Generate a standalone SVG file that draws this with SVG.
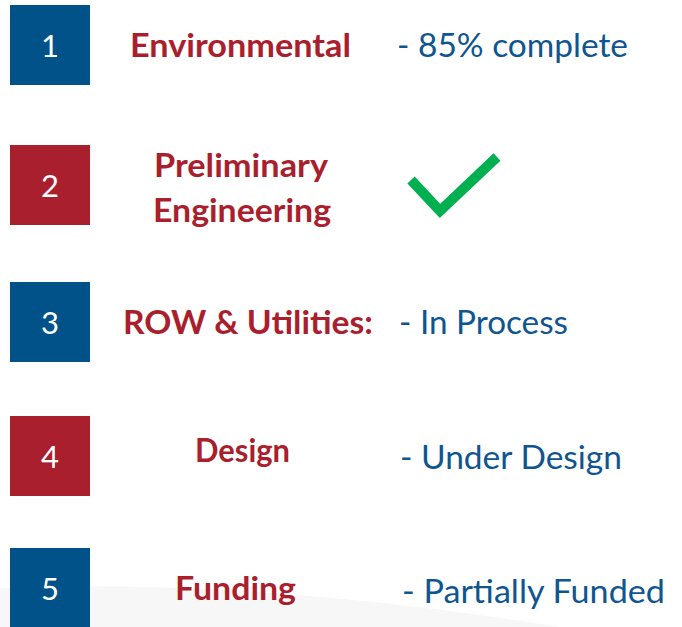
<svg xmlns="http://www.w3.org/2000/svg" width="682" height="627" viewBox="0 0 682 627">
  <style>
    .box-blue { fill: #02528A; }
    .box-red { fill: #AA1F2E; }
    .num { font-family: "Lato", "Open Sans", "Liberation Sans", sans-serif; font-size: 31px; fill: #FFFFFF; text-anchor: middle; }
    .label { font-family: "Lato", "Open Sans", "Liberation Sans", sans-serif; font-size: 32px; font-weight: bold; fill: #AA1F2E; }
    .status { font-family: "Lato", "Open Sans", "Liberation Sans", sans-serif; font-size: 32px; fill: #0F5590; }
  </style>
  <rect width="682" height="627" fill="#FFFFFF"/>
  <path d="M0,588 Q260,578 560,627 L0,627 Z" fill="#F7F7F7"/>

  <g id="step1">
    <rect class="box-blue" x="10" y="5" width="80" height="80"/>
    <text class="num" x="50" y="57">1</text>
    <text class="label" x="130" y="57" textLength="221" lengthAdjust="spacingAndGlyphs">Environmental</text>
    <text class="status" x="397" y="57" textLength="231" lengthAdjust="spacingAndGlyphs">- 85% complete</text>
  </g>

  <g id="step2">
    <rect class="box-red" x="10" y="145" width="80" height="80"/>
    <text class="num" x="50" y="197">2</text>
    <text class="label" x="154" y="177" textLength="174" lengthAdjust="spacingAndGlyphs">Preliminary</text>
    <text class="label" x="153" y="222" textLength="178" lengthAdjust="spacingAndGlyphs">Engineering</text>
    <polyline points="411,180 440,211 497,157" fill="none" stroke="#00B050" stroke-width="10" stroke-linejoin="miter"/>
  </g>

  <g id="step3">
    <rect class="box-blue" x="10" y="282" width="80" height="80"/>
    <text class="num" x="50" y="334">3</text>
    <text class="label" x="123" y="334" textLength="250" lengthAdjust="spacingAndGlyphs">ROW &amp; Utilities:</text>
    <text class="status" x="399" y="334" textLength="169" lengthAdjust="spacingAndGlyphs">- In Process</text>
  </g>

  <g id="step4">
    <rect class="box-red" x="10" y="416" width="80" height="80"/>
    <text class="num" x="50" y="468">4</text>
    <text class="label" x="195" y="462" textLength="95" lengthAdjust="spacingAndGlyphs">Design</text>
    <text class="status" x="400" y="469" textLength="222" lengthAdjust="spacingAndGlyphs">- Under Design</text>
  </g>

  <g id="step5">
    <rect class="box-blue" x="10" y="548" width="80" height="79"/>
    <text class="num" x="50" y="600">5</text>
    <text class="label" x="175" y="600" textLength="121" lengthAdjust="spacingAndGlyphs">Funding</text>
    <text class="status" x="402" y="603" textLength="263" lengthAdjust="spacingAndGlyphs">- Partially Funded</text>
  </g>

  <g id="connectors"></g>
</svg>
